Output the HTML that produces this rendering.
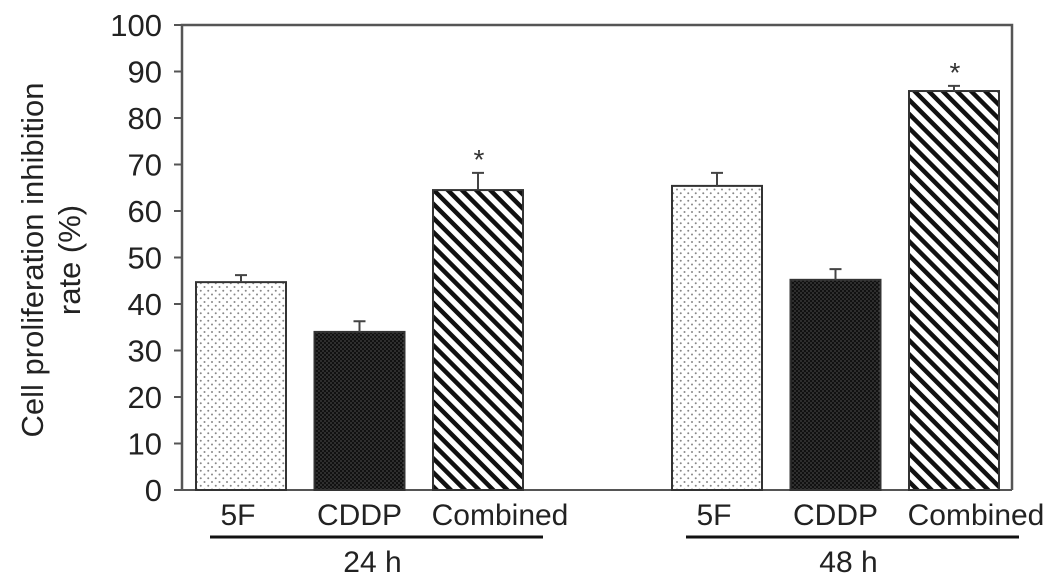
<!DOCTYPE html>
<html><head><meta charset="utf-8"><style>
html,body{margin:0;padding:0;background:#fff;}
svg{display:block;font-family:"Liberation Sans",Arial,sans-serif;}
</style></head><body>
<svg id="chart" width="1063" height="584" viewBox="0 0 1063 584">
<defs>
<pattern id="dots" width="7.5" height="7.5" patternUnits="userSpaceOnUse"><rect width="7.5" height="7.5" fill="#fff"/><circle cx="2" cy="2" r="1" fill="#888"/><circle cx="5.75" cy="5.75" r="1" fill="#888"/></pattern>
<pattern id="dark" width="4" height="4" patternUnits="userSpaceOnUse"><rect width="4" height="4" fill="#111"/><circle cx="1" cy="1" r="0.6" fill="#777"/><circle cx="3" cy="3" r="0.6" fill="#777"/></pattern>
<pattern id="stripes" width="10" height="10" patternUnits="userSpaceOnUse" patternTransform="rotate(-45)"><rect width="10" height="10" fill="#fff"/><rect x="0" y="0" width="4.5" height="10" fill="#111"/></pattern>
</defs>
<g id="plot"></g>
<text x="35" y="260" transform="rotate(-90 35 260)" text-anchor="middle" dominant-baseline="middle" font-size="31" fill="#222">Cell proliferation inhibition</text>
<text x="72" y="260" transform="rotate(-90 72 260)" text-anchor="middle" dominant-baseline="middle" font-size="31" fill="#222">rate (%)</text>
</svg>
<script>
const groups = ["24 h", "48 h"];
const categories = ["5F", "CDDP", "Combined"];
const values24 = [44.7, 34.0, 64.5];
const values48 = [65.4, 45.2, 85.8];
const errors24 = [1.5, 2.3, 3.7];
const errors48 = [2.8, 2.3, 1.1];
const significant24 = [false, false, true];
const significant48 = [false, false, true];
const yTicks = [0,10,20,30,40,50,60,70,80,90,100];

const NS = "http://www.w3.org/2000/svg";
const g = document.getElementById("plot");
const X0 = 182, X1 = 1012, Y0 = 490, Y1 = 25;
const y = v => Y0 - (v/100)*(Y0-Y1);
const groupStart = [196, 672];
const barW = 90, barStep = 118.5;
const labelShift = [-3, 0, 22];
const xBar = (gi, ci) => groupStart[gi] + ci*barStep;
const fills = ["url(#dots)", "url(#dark)", "url(#stripes)"];
function mk(tag, attrs){const e=document.createElementNS(NS,tag);for(const k in attrs)e.setAttribute(k,attrs[k]);g.appendChild(e);return e;}

const frame = mk("path",{d:`M${X0},${Y0} L${X0},${Y1} L${X1},${Y1} L${X1},${Y0}`,fill:"none",stroke:"#555","stroke-width":2.5});


const base = mk("line",{x1:X0-7,x2:X1,y1:Y0,y2:Y0,stroke:"#555","stroke-width":2});



yTicks.forEach(t=>{
  const tk = mk("line",{x1:X0-8,x2:X0,y1:y(t),y2:y(t),stroke:"#555","stroke-width":2});
  
  
  const lb = mk("text",{x:X0-20,y:y(t)+11,"text-anchor":"end","font-size":31,fill:"#222"});
  lb.textContent = t;
  
  
});

const allVals=[values24,values48], allErr=[errors24,errors48], allSig=[significant24,significant48];
groups.forEach((gn,gi)=>{
  categories.forEach((c,ci)=>{
    const v=allVals[gi][ci], e=allErr[gi][ci], x=xBar(gi,ci);
    const r = mk("rect",{x:x,y:y(v),width:barW,height:Y0-y(v),fill:fills[ci],stroke:"#333","stroke-width":2});
    
    
    const cx = x+barW/2;
    const eb = mk("path",{d:`M${cx},${y(v)} L${cx},${y(v+e)} M${cx-6},${y(v+e)} L${cx+6},${y(v+e)}`,stroke:"#444","stroke-width":2,fill:"none"});
    
    
    if(allSig[gi][ci]){
      const s = mk("text",{x:cx+1,y:y(v+e)-4,"text-anchor":"middle","font-size":28,fill:"#333"});
      s.textContent="*";
      
      
    }
    const cl = mk("text",{x:cx+labelShift[ci],y:525,"text-anchor":"middle","font-size":30,fill:"#222"});
    cl.textContent=c;
    
    
  });
  const lx0 = xBar(gi,0)+14, lx1 = xBar(gi,2)+barW+20;
  const ul = mk("line",{x1:lx0,x2:lx1,y1:537,y2:537,stroke:"#111","stroke-width":3});
  
  
  const gl = mk("text",{x:xBar(gi,1)+barW/2+13,y:572,"text-anchor":"middle","font-size":30,fill:"#222"});
  gl.textContent=gn;
  
  
});
</script>
</body></html>
